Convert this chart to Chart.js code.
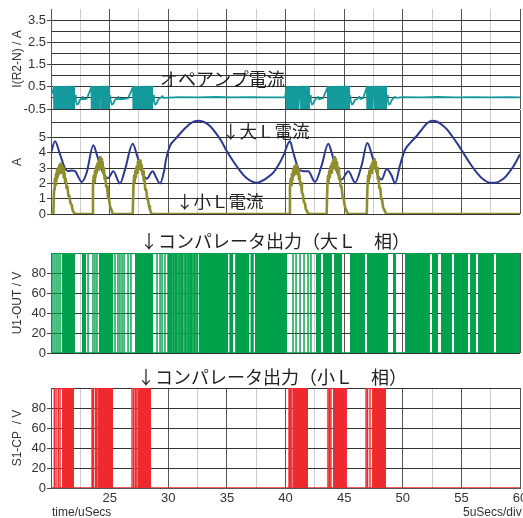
<!DOCTYPE html>
<html><head><meta charset="utf-8">
<script src="https://cdn.jsdelivr.net/npm/chart.js@4.4.1/dist/chart.umd.min.js"></script>
<style>
html,body{margin:0;padding:0;background:#fff;width:523px;height:518px;overflow:hidden}
body{position:relative}
canvas{position:absolute;left:0}
.ann{position:absolute;font-family:"Noto Sans CJK JP";font-size:18px;line-height:18px;color:#222;white-space:pre;z-index:5}
.xt{position:absolute;font-family:"Liberation Sans",Arial,sans-serif;font-size:12px;line-height:14px;color:#333;z-index:5;white-space:pre}
</style></head><body>
<canvas id="c1" width="523" height="118" style="top:0px"></canvas>
<canvas id="c2" width="523" height="112" style="top:110px"></canvas>
<canvas id="c3" width="523" height="150" style="top:216px"></canvas>
<canvas id="c4" width="523" height="158" style="top:360px"></canvas>
<div class="ann" style="left:160px;top:69px">オペアンプ電流</div>
<div class="ann" style="left:222px;top:122px;font-size:17.5px">↓大Ｌ電流</div>
<div class="ann" style="left:176px;top:192px;font-size:17.5px">↓小Ｌ電流</div>
<div class="ann" style="left:140px;top:231px">↓コンパレータ出力（大Ｌ　相）</div>
<div class="ann" style="left:137px;top:367px">↓コンパレータ出力（小Ｌ　相）</div>
<div class="xt" style="left:52px;top:505px">time/uSecs</div>
<div class="xt" style="left:463px;top:505px">5uSecs/div</div>
<script>
// ---------- data ----------
const xGridValues = [20,22.5,25,27.5,30,32.5,35,37.5,40,42.5,45,47.5,50,52.5,55,57.5,60];
const xMajorValues = [20,25,30,35,40,45,50,55,60];
const xLabelValues = [25,30,35,40,45,50,55,60];

const p1GridValues = [-0.5,0,0.5,1,1.5,2,2.5,3,3.5];
const p1LabelValues = [-0.5,0.5,1.5,2.5,3.5];
const p2GridValues = [0,1,2,3,4,5,6];
const p2LabelValues = [0,1,2,3,4,5];
const vGridValues = [0,20,40,60,80,100];
const vLabelValues = [0,20,40,60,80];

// I(R2-N) op-amp current [time uS, A]
const opAmpCurrent = [
 [20.0,0.1],[20.17,0.35],[20.25,0.5],[20.27,-0.5],[20.38,0.5],[20.4,-0.5],[20.52,0.5],[20.54,-0.5],[20.64,0.5],[20.66,-0.5],[20.78,0.5],[20.8,-0.5],[20.9,0.5],[20.92,-0.5],[21.02,0.5],[21.04,-0.5],[21.12,0.5],[21.14,-0.5],[21.2,0.5],
 [22.05,0.1],[22.12,-0.15],[22.22,-0.3],[22.35,-0.25],[22.45,-0.1],[22.55,-0.05],[22.65,-0.05],[22.7,0.05],[22.75,-0.05],[22.95,-0.05],[23.07,-0.02],[23.45,0.5],[23.47,-0.5],[23.58,0.5],[23.6,-0.5],[23.72,0.5],[23.74,-0.5],[23.86,0.5],[23.88,-0.5],[24.0,0.5],[24.02,-0.5],[24.12,0.5],[24.14,-0.5],[24.2,0.5],
 [25.03,0.1],[25.1,-0.15],[25.2,-0.3],[25.33,-0.25],[25.43,-0.1],[25.55,-0.05],[25.7,-0.05],[25.75,0.05],[25.8,-0.05],[26.1,-0.05],[26.57,-0.02],[27.0,0.5],[27.02,-0.5],[27.14,0.5],[27.16,-0.5],[27.28,0.5],[27.3,-0.5],[27.42,0.5],[27.44,-0.5],[27.56,0.5],[27.58,-0.5],[27.68,0.5],[27.7,-0.5],[27.76,0.5],
 [28.7,0.1],[28.78,-0.15],[28.88,-0.3],[29.0,-0.25],[29.12,-0.1],[29.25,-0.02],[29.4,0.02],[29.5,0.08],[29.6,0.0],[31.0,0.03],[32.5,0.02],[34.0,0.04],[35.5,0.02],[37.0,0.03],[38.5,0.02],[39.96,0.02],
 [40.1,0.5],[40.12,-0.5],[40.24,0.5],[40.26,-0.5],[40.38,0.5],[40.4,-0.5],[40.52,0.5],[40.54,-0.5],[40.66,0.5],[40.68,-0.5],[40.8,0.5],[40.82,-0.5],[40.94,0.5],[40.96,-0.5],[41.08,0.5],[41.1,-0.5],[41.22,0.5],
 [42.09,0.1],[42.16,-0.15],[42.26,-0.3],[42.38,-0.25],[42.48,-0.1],[42.6,-0.05],[42.77,0.05],[42.85,-0.05],[43.2,-0.02],[43.6,0.5],[43.62,-0.5],[43.74,0.5],[43.76,-0.5],[43.88,0.5],[43.9,-0.5],[44.02,0.5],[44.04,-0.5],[44.16,0.5],[44.18,-0.5],[44.3,0.5],[44.32,-0.5],[44.39,0.5],
 [45.5,0.1],[45.57,-0.15],[45.67,-0.3],[45.79,-0.25],[45.9,-0.1],[46.1,-0.05],[46.3,0.05],[46.4,-0.05],[46.61,-0.02],[46.95,0.5],[46.97,-0.5],[47.09,0.5],[47.11,-0.5],[47.23,0.5],[47.25,-0.5],[47.37,0.5],[47.39,-0.5],[47.5,0.5],
 [48.66,0.1],[48.73,-0.15],[48.83,-0.3],[48.95,-0.25],[49.06,-0.1],[49.2,-0.02],[49.34,0.05],[49.45,0.0],[50.0,0.03],[51.5,0.02],[53.0,0.04],[54.5,0.02],[56.0,0.03],[57.5,0.02],[59.0,0.03],[60.0,0.02]
];
// dense oscillation bursts of op-amp current (-0.5..0.5) [start, end]
const opAmpDenseBursts = [[21.2,22.05],[24.2,25.03],[27.76,28.7],[41.24,42.09],[44.39,45.5],[47.5,48.66]];

// big L current [time uS, A]
const bigLCurrent = [
 [20.0,4.0],[20.34,4.75],[20.77,3.9],[21.19,3.0],[21.48,2.8],[21.77,2.85],[22.05,2.8],[22.62,2.1],[23.04,2.7],[23.61,4.5],[23.9,3.9],[24.32,2.9],[24.61,2.45],[24.89,2.35],[25.31,2.8],[25.88,2.0],[26.31,2.9],[26.97,4.6],[27.31,3.9],[27.74,2.8],[28.16,2.3],[28.67,2.8],[28.96,2.4],[29.3,2.0],[29.64,2.8],[29.81,3.55],[30.15,4.45],[30.6,4.9],[31.0,5.25],[31.5,5.65],[31.86,5.9],[32.2,6.05],[32.62,6.1],[33.1,6.0],[33.56,5.75],[34.0,5.35],[34.5,4.8],[35.0,4.1],[35.5,3.5],[36.1,2.85],[36.6,2.4],[37.2,2.1],[37.6,2.05],[37.83,2.1],[38.4,2.35],[38.96,2.7],[39.4,3.2],[39.81,3.8],[40.38,4.75],[40.67,4.0],[41.09,3.0],[41.52,2.8],[41.94,2.8],[42.52,2.1],[43.09,3.2],[43.65,4.6],[43.94,4.0],[44.37,2.8],[44.79,2.25],[45.36,2.8],[45.93,2.05],[46.5,3.2],[46.98,4.65],[47.35,3.9],[47.78,2.7],[48.2,2.25],[48.63,2.95],[49.06,2.5],[49.34,2.0],[49.77,3.2],[50.19,4.2],[50.7,4.7],[51.19,5.1],[51.7,5.6],[52.1,5.95],[52.47,6.1],[52.9,6.05],[53.3,5.85],[53.75,5.55],[54.2,5.1],[54.7,4.55],[55.16,4.0],[55.7,3.35],[56.31,2.7],[56.8,2.3],[57.44,2.05],[57.9,2.05],[58.58,2.3],[59.0,2.65],[59.43,3.1],[60.0,3.9]
];
// small L current [time uS, A]
const smallLCurrent = [
 [20.0,0],[20.2,0],[20.26,1.6],[20.32,2.3],[20.36,1.9],[20.42,2.6],[20.46,2.2],[20.52,2.9],[20.56,2.4],[20.62,3.0],[20.66,2.6],[20.72,3.2],[20.77,2.7],[20.83,3.3],[20.88,2.8],[20.93,3.2],[20.98,2.7],[21.04,3.0],[21.09,2.4],[21.15,2.7],[21.2,2.1],[21.26,2.3],[21.32,1.7],[21.4,1.8],[21.48,1.2],[21.56,1.2],[21.66,0.7],[21.76,0.6],[21.86,0.2],[21.96,0.1],[22.05,0],
 [23.52,0],[23.58,1.8],[23.64,2.5],[23.68,2.1],[23.74,2.8],[23.79,2.4],[23.85,3.1],[23.9,2.7],[23.96,3.3],[24.01,2.9],[24.07,3.5],[24.12,3.0],[24.18,3.7],[24.23,3.1],[24.29,3.6],[24.34,3.0],[24.4,3.4],[24.45,2.7],[24.51,3.0],[24.57,2.3],[24.63,2.5],[24.7,1.8],[24.78,1.8],[24.86,1.1],[24.94,1.0],[25.04,0.5],[25.14,0.3],[25.22,0.1],[25.29,0],
 [26.97,0],[27.03,1.8],[27.09,2.5],[27.13,2.1],[27.19,2.8],[27.24,2.4],[27.3,3.1],[27.35,2.7],[27.41,3.4],[27.46,2.9],[27.52,3.5],[27.57,3.0],[27.63,3.5],[27.68,2.9],[27.74,3.2],[27.79,2.6],[27.85,2.8],[27.91,2.2],[27.97,2.3],[28.04,1.6],[28.12,1.6],[28.2,1.0],[28.28,0.9],[28.36,0.5],[28.44,0.3],[28.52,0.1],[28.59,0],
 [40.32,0],[40.38,1.7],[40.44,2.3],[40.48,1.9],[40.54,2.6],[40.59,2.2],[40.65,2.9],[40.7,2.5],[40.76,3.1],[40.81,2.6],[40.87,3.2],[40.92,2.7],[40.98,3.2],[41.03,2.6],[41.09,2.9],[41.14,2.3],[41.2,2.5],[41.26,1.9],[41.33,2.0],[41.4,1.4],[41.48,1.3],[41.56,0.8],[41.65,0.7],[41.74,0.3],[41.84,0.2],[41.94,0],
 [43.51,0],[43.57,1.8],[43.63,2.5],[43.67,2.1],[43.73,2.8],[43.78,2.4],[43.84,3.1],[43.89,2.7],[43.95,3.3],[44.0,2.9],[44.06,3.5],[44.11,3.0],[44.17,3.7],[44.22,3.1],[44.28,3.6],[44.33,3.0],[44.39,3.4],[44.44,2.7],[44.5,3.0],[44.56,2.3],[44.62,2.5],[44.7,1.8],[44.78,1.8],[44.87,1.1],[44.96,1.0],[45.06,0.5],[45.16,0.3],[45.26,0.1],[45.36,0],
 [46.93,0],[46.99,1.8],[47.05,2.5],[47.09,2.1],[47.15,2.8],[47.2,2.4],[47.26,3.1],[47.31,2.7],[47.37,3.3],[47.42,2.9],[47.48,3.5],[47.53,3.0],[47.59,3.6],[47.64,3.0],[47.7,3.4],[47.75,2.8],[47.81,3.0],[47.87,2.3],[47.93,2.4],[48.0,1.7],[48.08,1.7],[48.16,1.0],[48.24,0.9],[48.33,0.4],[48.42,0.3],[48.52,0.1],[48.63,0],
 [60.0,0]
];

// U1-OUT comparator (big L phase): dense switching spans and single edges (uS)
const u1DenseSpans = [[20.94,22.05],[22.64,22.99],[24.09,25.29],[27.16,28.70],[32.62,35.10],[35.2,35.55],[35.7,36.9],[37.0,37.3],[37.40,40.13],[42.60,43.03],[43.20,43.97],[44.14,44.82],[45.50,46.78],[46.95,48.74],[49.17,49.42],[50.19,52.32],[52.49,53.01],[53.26,54.20],[54.37,55.57],[55.74,56.25],[56.42,57.78],[57.95,60.0]];
const u1SingleEdges = [20.09,20.26,20.43,20.60,20.77,23.16,23.58,23.75,23.92,25.46,25.71,25.88,26.06,26.23,26.57,26.82,29.04,29.30,29.47,29.72,29.98,30.10,30.20,30.32,30.45,30.58,30.70,30.83,30.96,31.09,31.20,31.34,31.47,31.60,31.73,31.86,31.98,32.11,32.24,32.37,32.50,40.64,40.90,41.24,41.58,41.92,42.17];
// S1-CP comparator (small L phase)
const s1DenseSpans = [[20.94,21.96],[24.01,25.29],[27.42,28.53],[40.64,41.92],[44.05,45.24],[47.38,48.57]];
const s1SingleEdges = [20.28,20.43,20.62,20.77,23.50,23.62,23.80,23.92,26.91,27.05,27.20,27.33,40.30,40.42,40.55,43.62,43.75,43.88,46.87,47.00,47.21];
const s1BurstSpans = [[20.28,21.96],[23.50,25.29],[26.91,28.53],[40.30,41.92],[43.62,45.24],[46.87,48.57]];

// ---------- helpers (build library tables from the arrays) ----------
const FONT = '"Liberation Sans", Arial, sans-serif';
const pts = arr => arr.map(([x,y]) => ({x, y}));
const spanPts = (spans, level) => { const o=[]; spans.forEach(([a,b]) => { o.push({x:a,y:level},{x:b,y:level},{x:b,y:null}); }); return o; };
const edgePts = (edges, lo, hi) => { const o=[]; edges.forEach(t => { o.push({x:t,y:lo},{x:t,y:hi},{x:t,y:null}); }); return o; };

function xAxis(show){
  return {
    type:'linear', min:20, max:60,
    afterBuildTicks: s => { s.ticks = xGridValues.map(v => ({value:v})); },
    afterFit: s => { s.height = show ? 30 : 0; s.paddingLeft = 0; s.paddingRight = 0; },
    grid: { color: c => xMajorValues.includes(c.tick && c.tick.value) ? '#555555' : '#cccccc', lineWidth:1, drawTicks:false },
    border: { display: show, color:'#555555', width:1 },
    ticks: { display: show, autoSkip:false, maxRotation:0, padding:3, color:'#333', font:{family:FONT,size:13},
             callback: v => xLabelValues.includes(v) ? String(v) : '' }
  };
}
function yAxis(min, max, grid, labels, title, z){
  return {
    type:'linear', position:'left', min, max, z,
    afterBuildTicks: s => { s.ticks = grid.map(v => ({value:v})); },
    afterFit: s => { s.width = 51; s.paddingTop = 0; s.paddingBottom = 0; },
    grid: { color:'#333333', lineWidth:1, drawTicks:true, tickLength:4,
            tickColor: c => labels.includes(c.tick && c.tick.value) ? '#444' : 'rgba(0,0,0,0)' },
    border: { display:true, color:'#555555', width:1 },
    ticks: { autoSkip:false, padding:1, color:'#333', font:{family:FONT,size:13},
             callback: v => labels.includes(v) ? String(v) : '' },
    title: { display:true, text:title, color:'#333', font:{family:FONT,size:12}, padding:{top:10,bottom:0} }
  };
}
function makeChart(id, datasets, ymin, ymax, grid, labels, title, pad, showX, z){
  return new Chart(document.getElementById(id), {
    type:'line',
    data:{ datasets },
    options:{
      responsive:false, animation:false, events:[],
      parsing:true, normalized:true,
      layout:{ padding:{ top:pad[0], bottom:pad[1], left:0, right:3 } },
      elements:{ point:{ radius:0 }, line:{ borderJoinStyle:'round' } },
      plugins:{ legend:{display:false}, tooltip:{enabled:false} },
      scales:{ x: xAxis(showX), y: yAxis(ymin, ymax, grid, labels, title, z) }
    }
  });
}

const CYAN = '#14999d', BLUE = '#2c3796', OLIVE = '#8e8f2c', GREEN = '#00a14b', RED = '#ee2a2f';

makeChart('c1', [
  { data: pts(opAmpCurrent), borderColor:CYAN, borderWidth:1.8, spanGaps:true },
  { data: spanPts(opAmpDenseBursts, 0.52), borderColor:CYAN, backgroundColor:CYAN, borderWidth:1, fill:{value:-0.52}, spanGaps:false }
], -0.5, 4.0, p1GridValues, p1LabelValues, 'I(R2-N) / A', [9,9], false, 0);

makeChart('c2', [
  { data: pts(smallLCurrent), borderColor:OLIVE, borderWidth:2.6, spanGaps:true },
  { data: pts(bigLCurrent), borderColor:BLUE, borderWidth:2, cubicInterpolationMode:'monotone', spanGaps:true }
], 0, 6.8, p2GridValues, p2LabelValues, 'A', [0,8], false, 0);

const u1Start = u1SingleEdges[0];
makeChart('c3', [
  { data: spanPts(u1DenseSpans, 100), borderColor:GREEN, backgroundColor:GREEN, borderWidth:1, fill:{value:0}, spanGaps:false },
  { data: edgePts(u1SingleEdges, 0, 100), borderColor:GREEN, borderWidth:1.4, spanGaps:false },
  { data: spanPts([[u1Start,60]], 100), borderColor:GREEN, borderWidth:1.4, spanGaps:false },
  { data: spanPts([[u1Start,60]], 0), borderColor:GREEN, borderWidth:1.6, spanGaps:false }
], 0, 100, vGridValues, vLabelValues, 'U1-OUT / V', [37,13], false, 1);

makeChart('c4', [
  { data: spanPts(s1DenseSpans, 100), borderColor:RED, backgroundColor:RED, borderWidth:1, fill:{value:0}, spanGaps:false },
  { data: edgePts(s1SingleEdges, 0, 100), borderColor:RED, borderWidth:1.4, spanGaps:false },
  { data: spanPts(s1BurstSpans, 100), borderColor:RED, borderWidth:1.4, spanGaps:false },
  { data: spanPts([[20,60]], 0), borderColor:RED, borderWidth:1.6, spanGaps:false }
], 0, 100, vGridValues, vLabelValues, 'S1-CP  / V', [28,0], true, 1);
</script>
</body></html>
